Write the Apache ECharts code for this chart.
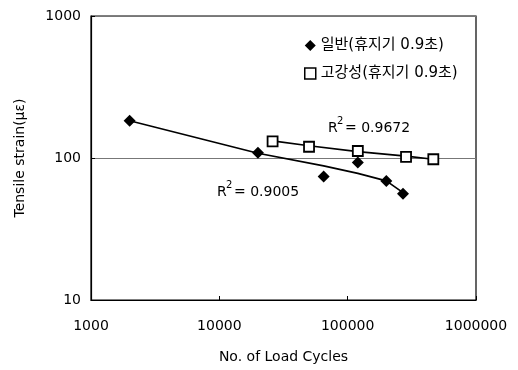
<!DOCTYPE html>
<html>
<head>
<meta charset="utf-8">
<script src="https://cdn.jsdelivr.net/npm/echarts@6/dist/echarts.min.js"></script>
<style>html,body{margin:0;padding:0;background:#fff;}#c{width:518px;height:370px;}</style>
</head>
<body>
<div id="c"></div>
<script>
var seriesNames = ['일반(휴지기 0.9초)', '고강성(휴지기 0.9초)'];
var normalCycles = [2000, 20000, 65000, 120000, 200000, 270000];
var normalStrain = [183, 109, 74, 93, 69, 56];
var normalTrend  = [183, 108, 88, 78, 69, 57];
var stiffCycles = [26000, 50000, 120000, 285000, 465000];
var stiffStrain = [131, 120, 112, 102, 98];
var stiffTrend  = [132, 122, 111, 103, 98];
var r2Labels = ['0.9005', '0.9672'];

function pairs(xs, ys) { return xs.map(function (x, i) { return [x, ys[i]]; }); }

var FONT = "'DejaVu Sans', 'Noto Sans CJK KR', sans-serif";
var chart = echarts.init(document.getElementById('c'), null, {renderer: 'canvas'});

function r2(x, y, val) {
  return {
    type: 'group', left: x, top: y - 12,
    children: [
      {type: 'text', left: 0, top: 2, style: {text: 'R', font: '14px ' + FONT, fill: '#000'}},
      {type: 'text', left: 9, top: -3, style: {text: '2', font: '10px ' + FONT, fill: '#000'}},
      {type: 'text', left: 17, top: 2, style: {text: '= ' + val, font: '14px ' + FONT, fill: '#000'}}
    ]
  };
}

chart.setOption({
  animation: false,
  backgroundColor: '#fff',
  textStyle: {fontFamily: FONT},
  grid: {left: 91, top: 16, right: 42, bottom: 70, show: true, borderColor: '#000', borderWidth: 1.2, backgroundColor: 'transparent'},
  legend: {
    orient: 'vertical', left: 299, top: 33, itemGap: 13, itemWidth: 11, itemHeight: 11,
    textStyle: {fontSize: 15, color: '#000', fontFamily: FONT},
    data: [
      {name: seriesNames[0], icon: 'diamond'},
      {name: seriesNames[1], icon: 'rect', itemStyle: {borderWidth: 1.5}}
    ]
  },
  xAxis: {
    type: 'log', logBase: 10, min: 1000, max: 1000000,
    name: 'No. of Load Cycles', nameLocation: 'middle', nameGap: 50,
    nameTextStyle: {fontSize: 14, color: '#000', fontFamily: FONT},
    axisLine: {lineStyle: {color: '#000', width: 1.2}},
    axisTick: {inside: true, length: 4, lineStyle: {color: '#000'}},
    axisLabel: {fontSize: 14, color: '#000', margin: 19, fontFamily: FONT, formatter: function (v) { return String(Math.round(v)); }},
    splitLine: {show: false}, minorTick: {show: false}
  },
  yAxis: {
    type: 'log', logBase: 10, min: 10, max: 1000,
    name: 'Tensile strain(με)', nameLocation: 'middle', nameGap: 64,
    nameTextStyle: {fontSize: 14, color: '#000', fontFamily: FONT},
    axisLine: {lineStyle: {color: '#000', width: 1.2}},
    axisTick: {inside: true, length: 4, lineStyle: {color: '#000'}},
    axisLabel: {fontSize: 14, color: '#000', margin: 10, fontFamily: FONT, formatter: function (v) { return String(Math.round(v)); }},
    splitLine: {show: true, lineStyle: {color: '#777', width: 1}}
  },
  series: [
    {
      name: seriesNames[0], type: 'scatter', symbol: 'diamond', symbolSize: 12,
      itemStyle: {color: '#000', opacity: 1}, data: pairs(normalCycles, normalStrain), z: 5
    },
    {
      name: seriesNames[1], type: 'scatter', symbol: 'rect', symbolSize: 10,
      itemStyle: {color: '#fff', borderColor: '#000', borderWidth: 1.8, opacity: 1}, data: pairs(stiffCycles, stiffStrain), z: 5
    },
    {
      name: 'trend1', type: 'line', symbol: 'none', lineStyle: {color: '#000', width: 1.7},
      data: pairs(normalCycles, normalTrend), z: 3
    },
    {
      name: 'trend2', type: 'line', symbol: 'none', lineStyle: {color: '#000', width: 1.7},
      data: pairs(stiffCycles, stiffTrend), z: 3
    }
  ],
  graphic: [r2(217, 192, r2Labels[0]), r2(328, 128, r2Labels[1])]
});
</script>
</body>
</html>
